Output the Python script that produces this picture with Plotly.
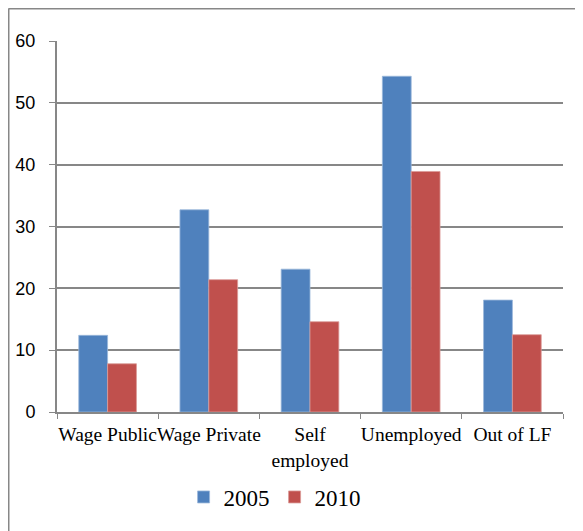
import plotly.graph_objects as go

categorias = ["Wage Public", "Wage Private", "Self<br>employed", "Unemployed", "Out of LF"]
valores_2005 = [12.4, 32.7, 23.1, 54.3, 18.1]
valores_2010 = [7.8, 21.4, 14.6, 38.9, 12.5]
ticks_y = [0, 10, 20, 30, 40, 50, 60]

azul = "#4F81BD"
vermelho = "#C0504D"
cinza = "#878787"

fig = go.Figure()
fig.add_trace(go.Bar(x=categorias, y=valores_2005, name="2005",
                     marker=dict(color=azul, line=dict(color="#9BB7DB", width=0.8))))
fig.add_trace(go.Bar(x=categorias, y=valores_2010, name="2010",
                     marker=dict(color=vermelho, line=dict(color="#DA9A98", width=0.8))))

# moldura: so aparecem o lado esquerdo e o de cima
borda_x = -48.5 / 506
borda_y = 1 + 32.5 / 371
moldura = [
    dict(type="line", xref="paper", yref="paper", x0=borda_x, x1=borda_x, y0=-1, y1=borda_y,
         line=dict(color=cinza, width=2), layer="below"),
    dict(type="line", xref="paper", yref="paper", x0=borda_x, x1=1.5, y0=borda_y, y1=borda_y,
         line=dict(color=cinza, width=2), layer="below"),
]

# a pagina tem 8px de margem no body, por isso a figura e menor
fig.update_layout(
    width=575, height=523,
    margin=dict(l=49, r=20, t=33, b=119),
    plot_bgcolor="white", paper_bgcolor="white",
    barmode="group", bargap=0.43, bargroupgap=0,
    showlegend=True,
    legend=dict(orientation="h", xref="paper", yref="container",
                x=0.43, xanchor="center", y=34 / 523, yanchor="middle",
                font=dict(family="Liberation Serif", size=23, color="black"),
                itemwidth=30, tracegroupgap=0),
    xaxis=dict(showline=True, linecolor=cinza, linewidth=2, automargin=False,
               ticks="outside", tickson="boundaries", ticklen=5, tickcolor=cinza,
               ticklabelstandoff=4, tickangle=0,
               tickfont=dict(family="Liberation Serif", size=19.5, color="black")),
    yaxis=dict(range=[0, 60], tickvals=ticks_y, showgrid=True, gridcolor=cinza, gridwidth=1.5,
               showline=True, linecolor=cinza, linewidth=2, zeroline=False, automargin=False,
               ticks="outside", ticklen=6, tickcolor=cinza, ticklabelstandoff=10,
               tickfont=dict(family="Liberation Sans", size=18, color="black")),
    shapes=moldura,
)

fig.write_html("out.html")
